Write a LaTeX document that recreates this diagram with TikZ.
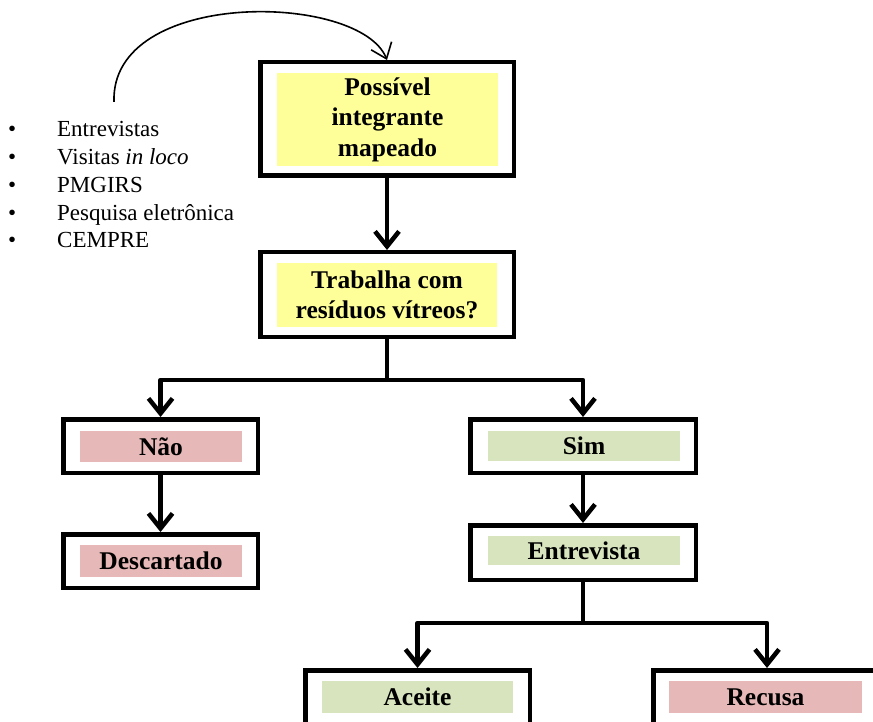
\documentclass[tikz,border=0pt]{standalone}
\usepackage{fontspec}
\setmainfont{Liberation Serif}
\usetikzlibrary{arrows.meta}
\definecolor{amarelo}{RGB}{255,255,153}
\definecolor{rosa}{RGB}{230,184,183}
\definecolor{verde}{RGB}{215,228,189}
\tikzset{
  moldura/.style={draw, line width=4.5pt, inner sep=0pt},
  rotulo/.style={inner sep=0pt, align=center, font=\fontsize{25.5pt}{30.5pt}\selectfont\bfseries},
  seta/.style={line width=4.5pt, line join=round, -{Straight Barb[length=15pt,width=24pt]}},
}
\begin{document}
\begin{tikzpicture}[x=1pt,y=-1pt]
        \path[use as bounding box, clip] (0,0) rectangle (873,722);
        \node[moldura, minimum width=253.5pt, minimum height=113.5pt] (mapeado) at (387,119) {};
        \node[rotulo, fill=amarelo, minimum width=221pt, minimum height=93pt] (mapeadoT) at (387.5,119.5) {Possível\\integrante\\mapeado};
        \node[moldura, minimum width=253.5pt, minimum height=84.5pt] (trabalha) at (387,294.5) {};
        \node[rotulo, fill=amarelo, minimum width=220pt, minimum height=64pt] (trabalhaT) at (387,295) {Trabalha com\\resíduos vítreos?};
        \node[moldura, minimum width=194.5pt, minimum height=53.5pt] (nao) at (160.5,446) {};
        \node[rotulo, fill=rosa, minimum width=162pt, minimum height=31pt] (naoT) at (161,446.5) {Não};
        \node[moldura, minimum width=194.5pt, minimum height=53.5pt] (descartado) at (160.5,561) {};
        \node[rotulo, fill=rosa, minimum width=162pt, minimum height=32pt] (descartadoT) at (161,561) {Descartado};
        \node[moldura, minimum width=225.5pt, minimum height=53.5pt] (sim) at (583,446) {};
        \node[rotulo, fill=verde, minimum width=192pt, minimum height=30pt] (simT) at (584,446) {Sim};
        \node[moldura, minimum width=225.5pt, minimum height=54.5pt] (entrevista) at (583,552.5) {};
        \node[rotulo, fill=verde, minimum width=192pt, minimum height=29pt] (entrevistaT) at (584,550.5) {Entrevista};
        \node[moldura, minimum width=224.5pt, minimum height=53.5pt] (aceite) at (417.5,697) {};
        \node[rotulo, fill=verde, minimum width=191pt, minimum height=32pt] (aceiteT) at (417.5,697) {Aceite};
        \node[moldura, minimum width=227.5pt, minimum height=53.5pt] (recusa) at (767,697) {};
        \node[rotulo, fill=rosa, minimum width=193pt, minimum height=32pt] (recusaT) at (765.5,697) {Recusa};
        \node[anchor=base west, inner sep=0pt, font=\fontsize{23pt}{27.8pt}\selectfont] (lista) at (8,136.7) {%
          \begin{tabular}[t]{@{}p{49pt}@{}l@{}}
            \textbullet & Entrevistas\\
            \textbullet & Visitas \textit{in loco}\\
            \textbullet & PMGIRS\\
            \textbullet & Pesquisa eletrônica\\
            \textbullet & CEMPRE
          \end{tabular}};
        \coordinate (inicio) at (114,102);
        \coordinate (ramo) at (387,380);
        \coordinate (ramo2) at (583,623);
        \draw[line width=1.6pt, -{Straight Barb[length=14pt,width=22pt]}] (inicio) .. controls (110,-12) and (360,-8) .. (mapeado.north);
        \draw[seta] (mapeado) -- (trabalha);
        \draw[seta] (trabalha.south) -- (ramo) -| (nao.north);
        \draw[seta] (ramo) -| (sim.north);
        \draw[seta] (nao) -- (descartado);
        \draw[seta] (sim) -- (entrevista);
        \draw[seta] (entrevista.south) -- (ramo2) -| (aceite.north);
        \draw[seta] (ramo2) -| (recusa.north);
\end{tikzpicture}
\end{document}
